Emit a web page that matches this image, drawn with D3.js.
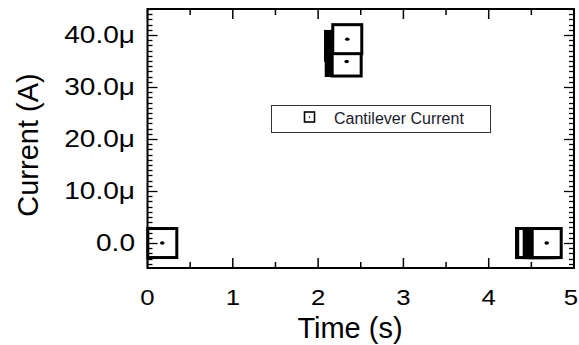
<!DOCTYPE html>
<html>
<head>
<meta charset="utf-8">
<script src="https://cdn.jsdelivr.net/npm/d3@7/dist/d3.min.js"></script>
<style>
  html, body { margin: 0; padding: 0; background: #fff; }
  text { font-family: "Liberation Sans", Arial, sans-serif; }
</style>
</head>
<body>
<svg id="chart" width="579" height="345"></svg>
<script>
// ---- data ----
const times = [0.1735,
  2.257, 2.265, 2.272, 2.28, 2.287, 2.295, 2.302, 2.31, 2.318, 2.335, 2.342,
  4.496, 4.503, 4.51, 4.586, 4.597, 4.608, 4.619, 4.630, 4.641, 4.652, 4.663, 4.680];
const currents = [0,
  37.9e-6, 35.0e-6, 37.5e-6, 35.2e-6, 37.0e-6, 35.1e-6, 36.8e-6, 35.3e-6, 36.2e-6, 34.9e-6, 39.2e-6,
  0, 0, 0, 0, 0, 0, 0, 0, 0, 0, 0, 0];
const xTicks = [0, 1, 2, 3, 4, 5];
const xTickLabels = ["0", "1", "2", "3", "4", "5"];
const yTicks = [0, 10e-6, 20e-6, 30e-6, 40e-6];
const yTickLabels = ["0.0", "10.0μ", "20.0μ", "30.0μ", "40.0μ"];
const seriesName = "Cantilever Current";
const xTitle = "Time (s)";
const yTitle = "Current (A)";

const svg = d3.select("#chart");
const L = 147.5, R = 574, T = 9, B = 268;
const x = d3.scaleLinear().domain([0, 5]).range([L, R]);
const y = d3.scaleLinear().domain([-4.8e-6, 45e-6]).range([B, T]);

const pts = times.map((t, i) => ({ t, v: currents[i] }));

// markers
const half = 14.5;
const mg = svg.append("g");
pts.forEach(d => {
  const cx = x(d.t), cy = y(d.v);
  mg.append("rect")
    .attr("x", cx - half).attr("y", cy - half)
    .attr("width", half * 2).attr("height", half * 2)
    .attr("fill", "#fff").attr("stroke", "#000").attr("stroke-width", 3);
  mg.append("ellipse").attr("cx", cx).attr("cy", cy).attr("rx", 2.3).attr("ry", 1.7).attr("fill", "#000");
});

// axes: ticks inside on all four sides
const ag = svg.append("g");
const yMinor = d3.range(-4, 46, 1).map(v => v * 1e-6);
const xMinor = d3.range(0, 5.01, 0.5);
yMinor.forEach(v => {
  const isMajor = Math.abs(Math.round(v * 1e6) % 10) === 0;
  const len = isMajor ? 10 : 5;
  const yy = Math.round(y(v)) + 0.5;
  ag.append("line").attr("x1", L).attr("x2", L + len).attr("y1", yy).attr("y2", yy).attr("stroke", "#000").attr("stroke-width", 1.3);
  ag.append("line").attr("x1", R).attr("x2", R - len).attr("y1", yy).attr("y2", yy).attr("stroke", "#000").attr("stroke-width", 1.3);
});
xMinor.forEach(v => {
  const isMajor = Math.abs(v - Math.round(v)) < 1e-9;
  const len = isMajor ? 10 : 6;
  const xx = x(v);
  ag.append("line").attr("x1", xx).attr("x2", xx).attr("y1", B).attr("y2", B - len).attr("stroke", "#000").attr("stroke-width", 1.5);
  ag.append("line").attr("x1", xx).attr("x2", xx).attr("y1", T).attr("y2", T + len).attr("stroke", "#000").attr("stroke-width", 1.5);
});
ag.append("rect").attr("x", L).attr("y", T).attr("width", R - L).attr("height", B - T)
  .attr("fill", "none").attr("stroke", "#000").attr("stroke-width", 2);

// tick labels
yTicks.forEach((v, i) => {
  svg.append("text")
    .attr("transform", `translate(135,${y(v)}) scale(1.22,1)`)
    .attr("text-anchor", "end").attr("dominant-baseline", "central")
    .attr("font-size", 23).attr("fill", "#000")
    .text(yTickLabels[i]);
});
xTicks.forEach((v, i) => {
  const xx = Math.min(x(v), 571);
  svg.append("text")
    .attr("transform", `translate(${xx},297) scale(1.12,1)`)
    .attr("text-anchor", "middle").attr("dominant-baseline", "central")
    .attr("font-size", 23).attr("fill", "#000")
    .text(xTickLabels[i]);
});

// axis titles
svg.append("text")
  .attr("transform", "translate(350,328)")
  .attr("text-anchor", "middle").attr("dominant-baseline", "central")
  .attr("font-size", 29).attr("fill", "#000").text(xTitle);
svg.append("text")
  .attr("transform", "translate(28,145) rotate(-90)")
  .attr("text-anchor", "middle").attr("dominant-baseline", "central")
  .attr("font-size", 29).attr("fill", "#000").text(yTitle);

// legend
const lg = svg.append("g");
lg.append("rect").attr("x", 271.5).attr("y", 105.5).attr("width", 219).attr("height", 27)
  .attr("fill", "#fff").attr("stroke", "#333").attr("stroke-width", 1);
lg.append("rect").attr("x", 304.5).attr("y", 112).attr("width", 10).attr("height", 10)
  .attr("fill", "#fff").attr("stroke", "#000").attr("stroke-width", 1.6);
lg.append("circle").attr("cx", 309.5).attr("cy", 117).attr("r", 0.8).attr("fill", "#000");
lg.append("text").attr("x", 334).attr("y", 118.5).attr("dominant-baseline", "central")
  .attr("font-size", 16).attr("fill", "#1a1a2a").text(seriesName);
</script>
</body>
</html>
